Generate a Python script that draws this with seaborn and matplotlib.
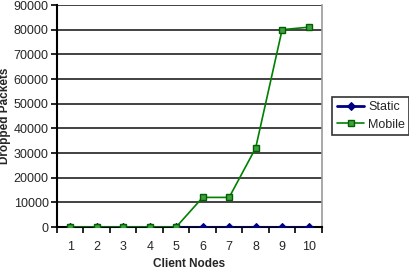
import matplotlib
matplotlib.use("Agg")
import matplotlib.pyplot as plt
import seaborn as sns
import pandas as pd
import numpy as np

nodes = ["1", "2", "3", "4", "5", "6", "7", "8", "9", "10"]
static = [0, 0, 0, 0, 0, 0, 0, 0, 0, 0]
mobile = [0, 0, 0, 0, 0, 12000, 12000, 32000, 80000, 81000]

sns.set_style("white")
plt.rcParams['font.family'] = ['Liberation Sans', 'DejaVu Sans']

df = pd.DataFrame({
    "pos": list(range(len(nodes))) * 2,
    "value": static + mobile,
    "series": ["Static"] * len(nodes) + ["Mobile"] * len(nodes),
})

fig = plt.figure(figsize=(4.1, 2.72), dpi=100)
ax = fig.add_axes([0.139, 0.1654, 0.646, 0.8162])

for y in range(10000, 90001, 10000):
    ax.axhline(y, color="#333333", lw=1.3, zorder=0)

sns.lineplot(data=df[df.series == "Static"], x="pos", y="value", ax=ax,
             color="#000080", marker="D", markersize=4.5, markeredgecolor="#000080",
             lw=2.0, label="Static", zorder=3)
sns.lineplot(data=df[df.series == "Mobile"], x="pos", y="value", ax=ax,
             color="#008000", marker="s", markersize=5, markerfacecolor="#40a040",
             markeredgecolor="#006000", markeredgewidth=1, lw=1.2, label="Mobile", zorder=4)

ax.set_xlim(-0.5, len(nodes) - 0.5)
ax.set_ylim(0, 90000)
ax.set_xticks(range(len(nodes)))
ax.set_xticklabels(nodes)
ax.set_xticks(np.arange(-0.5, len(nodes), 1.0), minor=True)
ax.tick_params(axis="x", which="major", length=0, pad=10, labelsize=9)
ax.tick_params(axis="x", which="minor", length=4, width=1.2, direction="out", color="black", bottom=True)
ax.set_yticks(range(0, 90001, 10000))
ax.tick_params(axis="y", length=4, width=1.2, direction="out", color="black", left=True, labelsize=9, pad=2)

ax.spines["top"].set_visible(False)
ax.spines["left"].set_color("black")
ax.spines["left"].set_linewidth(1.5)
ax.spines["bottom"].set_color("black")
ax.spines["bottom"].set_linewidth(1.5)
ax.spines["right"].set_color("#999999")
ax.spines["right"].set_linewidth(1.2)

ax.set_xlabel("Client Nodes", fontsize=8.5, fontweight="bold", labelpad=4)
ax.set_ylabel("Dropped Packets", fontsize=8.5, fontweight="bold", labelpad=2)

leg = ax.legend(loc="center left", bbox_to_anchor=(1.04, 0.5), frameon=True,
                fontsize=9, handlelength=2.2, borderpad=0.35, labelspacing=0.45,
                handletextpad=0.3, fancybox=False, borderaxespad=0)
leg.get_frame().set_edgecolor("black")
leg.get_frame().set_linewidth(1.2)

fig.savefig("out.png", dpi=100)
